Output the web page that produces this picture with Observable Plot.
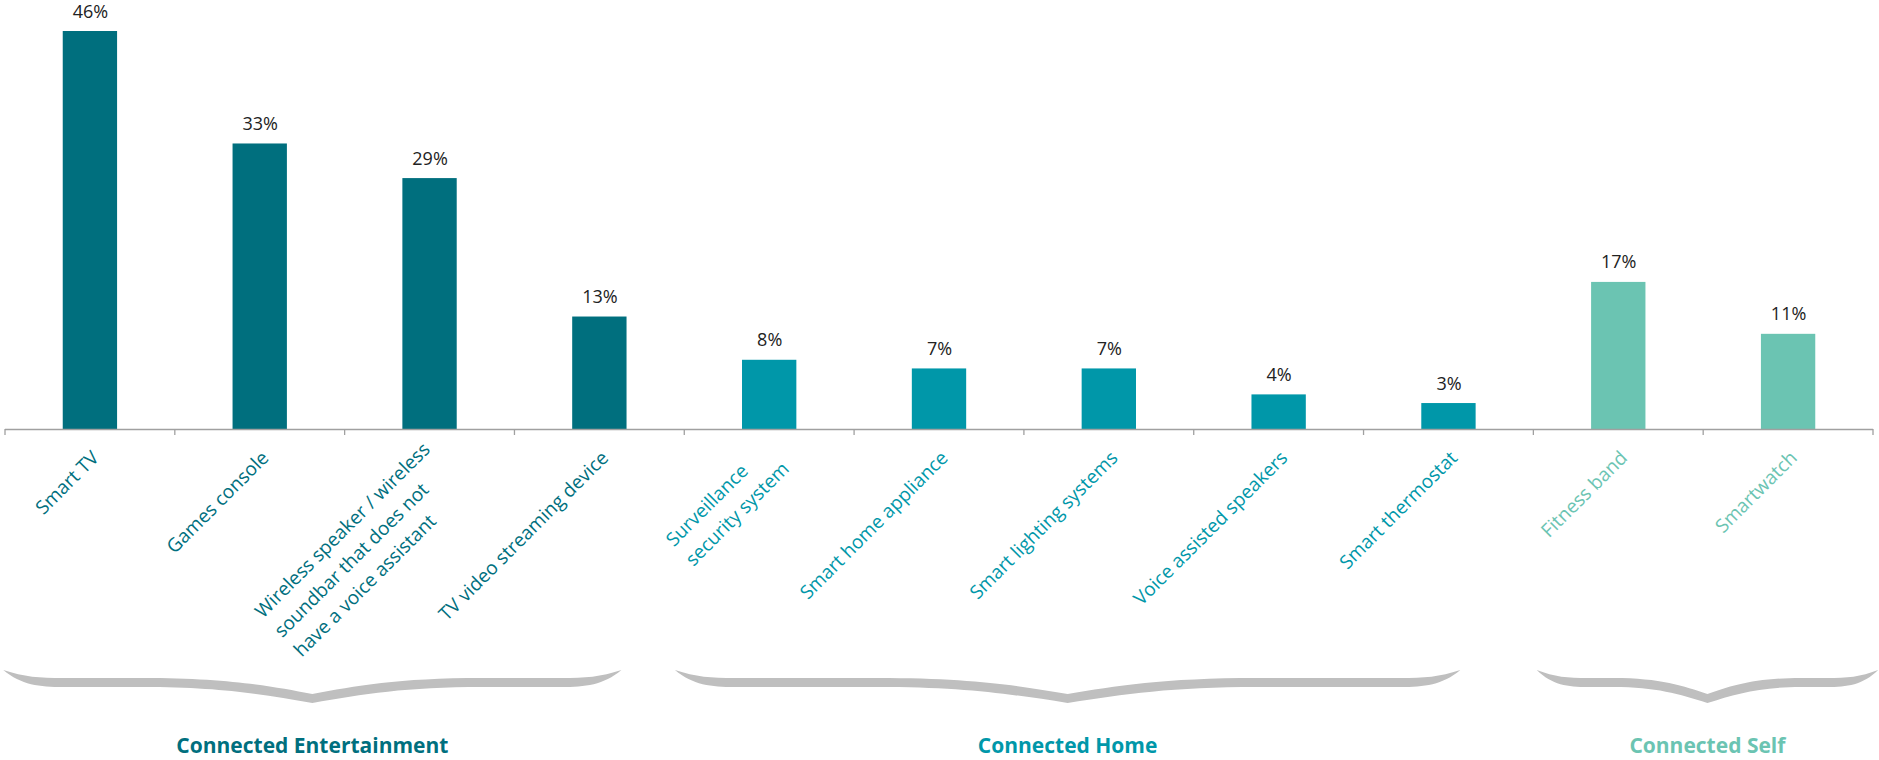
<!DOCTYPE html>
<html>
<head>
<meta charset="utf-8">
<script src="https://cdn.jsdelivr.net/npm/d3@7"></script>
<script src="https://cdn.jsdelivr.net/npm/@observablehq/plot@0.6"></script>
<style>
  html, body { margin: 0; padding: 0; background: #fff; }
  #chart svg { display: block; }
</style>
</head>
<body>
<div id="chart"></div>
<script>
// ---------- data ----------
const categories = [
  "Smart TV",
  "Games console",
  "Wireless speaker / wireless\nsoundbar that does not\nhave a voice assistant",
  "TV video streaming device",
  "Surveillance\nsecurity system",
  "Smart home appliance",
  "Smart lighting systems",
  "Voice assisted speakers",
  "Smart thermostat",
  "Fitness band",
  "Smartwatch"
];
const values = [46, 33, 29, 13, 8, 7, 7, 4, 3, 17, 11];
const categoryGroups = [
  "Connected Entertainment", "Connected Entertainment", "Connected Entertainment", "Connected Entertainment",
  "Connected Home", "Connected Home", "Connected Home", "Connected Home", "Connected Home",
  "Connected Self", "Connected Self"
];
const groupNames = ["Connected Entertainment", "Connected Home", "Connected Self"];
const groupColors = ["#006F7E", "#0097A9", "#6BC4B2"];
// brace extents, in category-band units (0 = left edge of first band)
const braceStart = [-0.01, 3.945, 9.02];
const braceEnd = [3.63, 8.57, 11.03];

const rows = categories.map((c, i) => ({category: c, value: values[i], group: categoryGroups[i]}));

// ---------- layout ----------
const W = 1879, H = 760;
const FS = 19, LH = 1.45, VFS = 18;
const axisY = 429;
const labelTop = 449;

const ctx = document.createElement("canvas").getContext("2d");
ctx.font = `${FS}px "Open Sans"`;
const R = Math.SQRT1_2;

function categoryLabel(d) {
  const lines = d.category.split("\n");
  const Lmax = d3.max(lines, l => ctx.measureText(l).width);
  const nOff = lines.length > 1 ? -12 : 0;
  const cap = 0.714 * FS;
  const k = nOff - 0.71 * LH * FS + cap;
  return Plot.text([d], {
    x: "category", y: () => 0, text: "category",
    rotate: -45, textAnchor: "start", lineAnchor: "top", lineHeight: LH,
    fontSize: FS, fill: "group",
    dx: -R * Lmax + R * k,
    dy: (labelTop - axisY) + R * Lmax + R * k
  });
}

const plot = Plot.plot({
  width: W,
  height: H,
  marginTop: 31,
  marginBottom: H - axisY,
  marginLeft: 5,
  marginRight: 6,
  style: {fontFamily: "'Open Sans', sans-serif", fontSize: "17px", background: "#fff"},
  x: {domain: categories, paddingInner: 0.68, paddingOuter: 0.34, round: false, axis: null},
  y: {domain: [0, d3.max(values)], axis: null},
  color: {domain: groupNames, range: groupColors},
  marks: [
    Plot.barY(rows, {x: "category", y: "value", fill: "group"}),
    Plot.ruleY([0], {stroke: "#A0A0A0", strokeWidth: 1.3}),
    Plot.text(rows, {x: "category", y: "value", text: d => d.value + "%", dy: -14,
      lineAnchor: "bottom", fontSize: VFS, fill: "#222222"}),
    ...rows.map(categoryLabel)
  ]
});

document.getElementById("chart").appendChild(plot);

// ---------- ticks, braces & group labels derived from the x scale ----------
const xs = plot.scale("x");
const x0 = xs.range[0];
const step = xs.step || (xs.range[1] - xs.range[0]) / xs.domain.length;
const svg = d3.select(plot);

const tickG = svg.append("g").attr("stroke", "#A0A0A0").attr("stroke-width", 1.3);
d3.range(categories.length + 1).forEach(i => {
  const x = x0 + i * step;
  tickG.append("line").attr("x1", x).attr("x2", x).attr("y1", axisY).attr("y2", axisY + 6);
});

function bracePath(a, b) {
  const T = 670, up = 678, lo = 687, B = 703, N = 694;
  const m = (a + b) / 2, half = (b - a) / 2;
  const e = Math.min(60, half * 0.3);
  const v = Math.min(190, half * 0.55);
  return [
    `M${a},${T}`,
    `C${a + e * 0.35},${up - 1} ${a + e * 0.6},${up} ${a + e},${up}`,
    `L${m - v},${up}`,
    `C${m - v * 0.5},${up} ${m - v * 0.25},${N - 8} ${m},${N}`,
    `C${m + v * 0.25},${N - 8} ${m + v * 0.5},${up} ${m + v},${up}`,
    `L${b - e},${up}`,
    `C${b - e * 0.6},${up} ${b - e * 0.35},${up - 1} ${b},${T}`,
    `C${b - e * 0.3},${lo - 2} ${b - e * 0.6},${lo} ${b - e},${lo}`,
    `L${m + v},${lo}`,
    `C${m + v * 0.55},${lo} ${m + v * 0.3},${B - 9} ${m},${B}`,
    `C${m - v * 0.3},${B - 9} ${m - v * 0.55},${lo} ${m - v},${lo}`,
    `L${a + e},${lo}`,
    `C${a + e * 0.6},${lo} ${a + e * 0.3},${lo - 2} ${a},${T}`,
    "Z"
  ].join(" ");
}

groupNames.forEach((g, i) => {
  const a = x0 + braceStart[i] * step;
  const b = x0 + braceEnd[i] * step;
  svg.append("path").attr("d", bracePath(a, b)).attr("fill", "#BFBFBF");
  svg.append("text")
    .attr("x", (a + b) / 2).attr("y", 753)
    .attr("text-anchor", "middle")
    .attr("font-family", "'Open Sans', sans-serif")
    .attr("font-weight", 700)
    .attr("font-size", 21)
    .attr("fill", groupColors[i])
    .text(g);
});
</script>
</body>
</html>
